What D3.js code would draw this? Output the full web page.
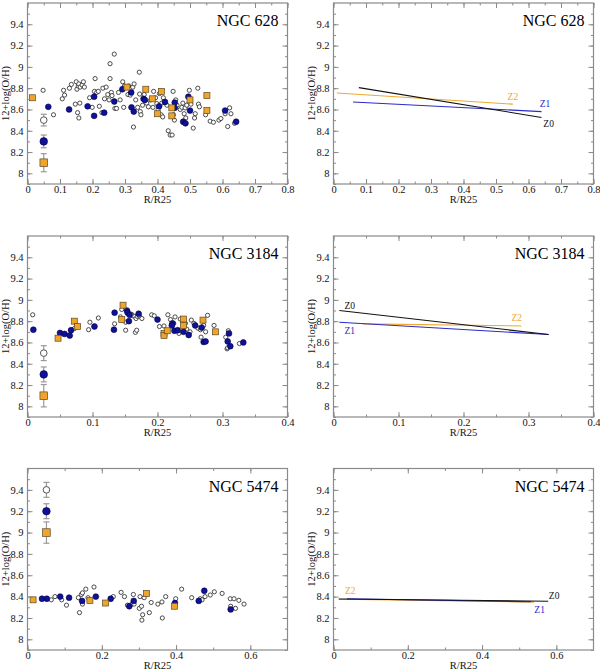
<!DOCTYPE html>
<html lang="en">
<head>
  <meta charset="UTF-8">
  <title>Radial O/H gradients</title>
  <script src="https://d3js.org/d3.v7.min.js"></script>
  <style>
    body { margin: 0; background: #fff; }
    svg { display: block; font-family: "Liberation Serif", "DejaVu Serif", serif; }
    .tick line { stroke: #8a8a8a; }
  </style>
</head>
<body>
  <svg id="chart" width="600" height="669"></svg>

  <script>
    // ---- NGC 628 ----
    const n628Z0 = [
      [0.048,8.78],[0.08,8.55],[0.107,8.70],[0.111,8.78],[0.114,8.735],[0.129,8.80],[0.135,8.835],
      [0.147,8.65],[0.150,8.86],[0.152,8.79],[0.156,8.82],[0.158,8.84],[0.162,8.81],[0.154,8.57],
      [0.158,8.52],[0.161,8.66],[0.168,8.83],[0.172,8.86],[0.175,8.81],[0.191,8.71],[0.199,8.62],
      [0.208,8.89],[0.206,8.77],[0.213,8.76],[0.218,8.77],[0.221,8.63],[0.229,8.57],[0.232,8.80],
      [0.237,8.70],[0.242,8.81],[0.247,8.74],[0.254,9.03],[0.254,8.89],[0.251,8.69],[0.258,8.76],
      [0.260,8.73],[0.267,9.12],[0.269,8.61],[0.274,8.61],[0.28,8.76],[0.285,8.69],[0.293,8.86],
      [0.296,8.62],[0.298,8.82],[0.309,8.74],[0.311,8.82],[0.316,8.735],[0.324,8.81],[0.326,8.435],
      [0.328,8.84],[0.333,8.69],[0.339,8.62],[0.344,8.95],[0.345,8.745],[0.347,8.58],[0.349,8.55],
      [0.354,8.64],[0.359,8.74],[0.367,8.66],[0.372,8.625],[0.379,8.69],[0.386,8.62],[0.388,8.77],
      [0.394,8.71],[0.398,8.655],[0.402,8.60],[0.406,8.75],[0.411,8.55],[0.413,8.66],[0.416,8.53],
      [0.418,8.71],[0.429,8.64],[0.433,8.40],[0.439,8.36],[0.445,8.36],[0.448,8.77],[0.449,8.55],
      [0.452,8.50],[0.456,8.69],[0.46,8.64],[0.47,8.60],[0.475,8.62],[0.478,8.66],[0.482,8.56],
      [0.485,8.615],[0.487,8.52],[0.49,8.64],[0.498,8.78],[0.503,8.65],[0.51,8.425],[0.514,8.52],
      [0.516,8.56],[0.524,8.80],[0.526,8.65],[0.529,8.625],[0.548,8.55],[0.562,8.49],[0.572,8.48],
      [0.589,8.50],[0.595,8.515],[0.608,8.56],[0.616,8.44],[0.622,8.615],[0.626,8.56],[0.637,8.47]
    ];
    const n628Z1 = [
      [0.064,8.625],[0.128,8.60],[0.185,8.63],[0.205,8.54],[0.205,8.72],[0.236,8.57],[0.267,8.675],
      [0.292,8.79],[0.319,8.76],[0.32,8.62],[0.327,8.58],[0.357,8.70],[0.361,8.69],[0.405,8.63],
      [0.423,8.67],[0.453,8.665],[0.453,8.615],[0.479,8.485],[0.486,8.47],[0.495,8.72],[0.50,8.59],
      [0.608,8.59],[0.642,8.485]
    ];
    const n628Z2 = [
      [0.015,8.71],[0.306,8.81],[0.364,8.79],[0.412,8.77],[0.384,8.70],[0.40,8.56],[0.444,8.615],
      [0.444,8.54],[0.50,8.69],[0.552,8.73],[0.552,8.59]
    ];
    // typical errors: [x, y, err] for Z0, Z1, Z2
    const n628Err = [[0.05,8.50,0.055],[0.05,8.30,0.06],[0.05,8.10,0.085]];
    // fitted gradients: [x0, y0, x1, y1] for Z0, Z1, Z2
    const n628Fit = [[0.078,8.805,0.64,8.525],[0.06,8.67,0.64,8.58],[0.01,8.755,0.552,8.65]];
    const n628Tag = [[0.662,8.467],[0.651,8.653],[0.552,8.72]];

    // ---- NGC 3184 ----
    const n3184Z0 = [
      [0.008,8.86],[0.072,8.73],[0.094,8.72],[0.096,8.79],[0.109,8.83],[0.134,8.775],[0.143,8.84],
      [0.145,8.91],[0.151,8.715],[0.151,8.79],[0.16,8.865],[0.162,8.85],[0.165,8.845],[0.166,8.695],
      [0.168,8.715],[0.167,8.825],[0.169,8.845],[0.172,8.85],[0.176,8.825],[0.191,8.86],[0.195,8.85],
      [0.203,8.75],[0.21,8.755],[0.216,8.86],[0.22,8.815],[0.225,8.78],[0.227,8.84],[0.233,8.685],
      [0.235,8.82],[0.243,8.78],[0.245,8.725],[0.25,8.70],[0.252,8.81],[0.256,8.78],[0.262,8.735],
      [0.266,8.72],[0.267,8.65],[0.271,8.76],[0.274,8.70],[0.277,8.855],[0.287,8.76],[0.305,8.65],
      [0.307,8.54],[0.308,8.55],[0.309,8.71],[0.326,8.59]
    ];
    const n3184Z1 = [
      [0.009,8.72],[0.05,8.69],[0.057,8.68],[0.065,8.665],[0.067,8.715],[0.103,8.75],[0.134,8.88],
      [0.133,8.72],[0.153,8.90],[0.154,8.88],[0.157,8.86],[0.156,8.80],[0.171,8.87],[0.20,8.815],
      [0.223,8.78],[0.222,8.76],[0.226,8.71],[0.231,8.715],[0.24,8.70],[0.248,8.67],[0.258,8.76],
      [0.268,8.74],[0.271,8.605],[0.274,8.61],[0.308,8.61],[0.31,8.685],[0.312,8.565],[0.332,8.60]
    ];
    const n3184Z2 = [
      [0.047,8.64],[0.072,8.80],[0.077,8.75],[0.147,8.95],[0.145,8.815],[0.21,8.685],[0.21,8.665],
      [0.215,8.71],[0.24,8.82],[0.24,8.76],[0.27,8.81],[0.289,8.70]
    ];
    const n3184Err = [[0.025,8.50,0.07],[0.025,8.30,0.07],[0.025,8.10,0.105]];
    const n3184Fit = [[0.009,8.90,0.331,8.675],[0.009,8.79,0.331,8.675],[0.045,8.775,0.289,8.755]];
    const n3184Tag = [[0.025,8.95],[0.025,8.71],[0.282,8.83]];

    // ---- NGC 5474 ----
    const n5474Z0 = [
      [0.064,8.37],[0.074,8.40],[0.092,8.37],[0.105,8.32],[0.137,8.39],[0.14,8.25],[0.145,8.42],
      [0.148,8.435],[0.148,8.33],[0.157,8.47],[0.163,8.39],[0.179,8.49],[0.231,8.40],[0.252,8.44],
      [0.261,8.40],[0.269,8.32],[0.281,8.33],[0.285,8.42],[0.287,8.33],[0.301,8.29],[0.303,8.40],
      [0.307,8.31],[0.308,8.18],[0.31,8.23],[0.314,8.39],[0.328,8.25],[0.333,8.345],[0.351,8.33],
      [0.362,8.35],[0.363,8.20],[0.372,8.40],[0.399,8.38],[0.415,8.47],[0.442,8.39],[0.465,8.38],
      [0.47,8.37],[0.478,8.40],[0.492,8.415],[0.503,8.445],[0.524,8.43],[0.546,8.38],[0.547,8.31],
      [0.556,8.38],[0.56,8.29],[0.569,8.365],[0.583,8.33]
    ];
    const n5474Z1 = [
      [0.039,8.38],[0.052,8.38],[0.088,8.40],[0.112,8.39],[0.147,8.36],[0.184,8.40],[0.224,8.38],
      [0.274,8.31],[0.286,8.36],[0.397,8.34],[0.461,8.36],[0.476,8.455],[0.547,8.28]
    ];
    const n5474Z2 = [[0.015,8.37],[0.168,8.365],[0.21,8.34],[0.32,8.43],[0.396,8.31]];
    const n5474Err = [[0.051,9.40,0.07],[0.051,9.20,0.07],[0.051,9.00,0.1]];
    const n5474Fit = [[0.014,8.378,0.578,8.357],[0.036,8.38,0.532,8.352],[0.015,8.376,0.54,8.348]];
    const n5474Tag = [[0.594,8.41],[0.555,8.28],[0.045,8.455]];

    const galaxies = ["NGC 628", "NGC 3184", "NGC 5474"];
    const xMax = [0.8, 0.4, 0.7];
    const xStep = [0.1, 0.1, 0.2];
    const zNames = ["Z0", "Z1", "Z2"];
    const yTicks = [8, 8.2, 8.4, 8.6, 8.8, 9, 9.2, 9.4];

    const pointSets = [[n628Z0, n628Z1, n628Z2], [n3184Z0, n3184Z1, n3184Z2], [n5474Z0, n5474Z1, n5474Z2]];
    const errSets = [n628Err, n3184Err, n5474Err];
    const fitSets = [n628Fit, n3184Fit, n5474Fit];
    const tagSets = [n628Tag, n3184Tag, n5474Tag];

    const serif = "'Liberation Serif', 'DejaVu Serif', serif";
    const lineColor = ["#111", "#2a2ac8", "#f0a830"];
    const frameColor = "#8a8a8a";
    const fmt = d3.format("~g");

    const svg = d3.select("#chart");
    const rows = [[3, 184], [236, 417], [468.5, 650]];
    const cols = [[27.5, 287.5], [333.5, 593.5]];

    function frame(g, x, y, k) {
      const [x0, x1] = x.range();
      const [y1, y0] = y.range();
      const step = xStep[k];
      const nMaj = Math.round(xMax[k] / step);
      const xMaj = d3.range(0, nMaj + 1).map(i => +(i * step).toFixed(3));
      const xMin = d3.range(0, 2 * nMaj + 1).map(i => +(i * step / 2).toFixed(3));
      const yMin = d3.range(0, 17).map(i => +(7.9 + i * 0.1).toFixed(2));

      const axes = [
        [d3.axisBottom(x).tickValues(xMaj).tickSize(-5).tickPadding(2).tickFormat(fmt), `translate(0,${y1})`],
        [d3.axisBottom(x).tickValues(xMin).tickSize(-2.5).tickFormat(""), `translate(0,${y1})`],
        [d3.axisTop(x).tickValues(xMaj).tickSize(-5).tickFormat(""), `translate(0,${y0})`],
        [d3.axisTop(x).tickValues(xMin).tickSize(-2.5).tickFormat(""), `translate(0,${y0})`],
        [d3.axisLeft(y).tickValues(yTicks).tickSize(-5).tickPadding(4).tickFormat(fmt), `translate(${x0},0)`],
        [d3.axisLeft(y).tickValues(yMin).tickSize(-2.5).tickFormat(""), `translate(${x0},0)`],
        [d3.axisRight(y).tickValues(yTicks).tickSize(-5).tickFormat(""), `translate(${x1},0)`],
        [d3.axisRight(y).tickValues(yMin).tickSize(-2.5).tickFormat(""), `translate(${x1},0)`]
      ];
      axes.forEach(([ax, tr]) => {
        const a = g.append("g").attr("transform", tr).call(ax.tickSizeOuter(0))
          .attr("font-family", serif).attr("font-size", 10.5);
        a.select(".domain").remove();
        a.selectAll("text").attr("fill", "#111");
      });

      g.append("rect")
        .attr("x", x0).attr("y", y0)
        .attr("width", x1 - x0).attr("height", y1 - y0)
        .attr("fill", "none").attr("stroke", frameColor).attr("stroke-width", 1.2);

      g.append("text")
        .attr("x", (x0 + x1) / 2).attr("y", y1 + 18.5)
        .attr("text-anchor", "middle").attr("font-size", 10.5).attr("fill", "#111")
        .text("R/R25");

      g.append("text")
        .attr("transform", `translate(${x0 - 19},${(y0 + y1) / 2}) rotate(-90)`)
        .attr("text-anchor", "middle").attr("font-size", 10.5).attr("fill", "#111")
        .text("12+log(O/H)");

      g.append("text")
        .attr("x", x1 - 9).attr("y", y0 + 23)
        .attr("text-anchor", "end").attr("font-size", 16).attr("fill", "#000")
        .text(galaxies[k]);
    }

    galaxies.forEach((name, k) => {
      const [top, bottom] = rows[k];
      const y = d3.scaleLinear().domain([7.9, 9.6]).range([bottom, top]);

      // left panel: abundances
      const xl = d3.scaleLinear().domain([0, xMax[k]]).range(cols[0]);
      const gl = svg.append("g");
      const [z0, z1, z2] = pointSets[k];

      gl.append("g").selectAll("circle").data(z0).join("circle")
        .attr("cx", d => xl(d[0])).attr("cy", d => y(d[1])).attr("r", 2.1)
        .attr("fill", "#fff").attr("stroke", "#222").attr("stroke-width", 0.8);

      gl.append("g").selectAll("circle").data(z1).join("circle")
        .attr("cx", d => xl(d[0])).attr("cy", d => y(d[1])).attr("r", 2.9)
        .attr("fill", "#10109a").attr("stroke", "#000040").attr("stroke-width", 0.6);

      gl.append("g").selectAll("rect").data(z2).join("rect")
        .attr("x", d => xl(d[0]) - 3).attr("y", d => y(d[1]) - 3)
        .attr("width", 6).attr("height", 6)
        .attr("fill", "#f2a42a").attr("stroke", "#5a4a22").attr("stroke-width", 0.7);

      // typical error bars
      const eg = gl.append("g");
      errSets[k].forEach((e, i) => {
        const cx = xl(e[0]);
        eg.append("line")
          .attr("x1", cx).attr("x2", cx).attr("y1", y(e[1] - e[2])).attr("y2", y(e[1] + e[2]))
          .attr("stroke", "#999").attr("stroke-width", 1.2);
        [e[1] - e[2], e[1] + e[2]].forEach(v => {
          eg.append("line")
            .attr("x1", cx - 3).attr("x2", cx + 3).attr("y1", y(v)).attr("y2", y(v))
            .attr("stroke", "#999").attr("stroke-width", 1.2);
        });
        if (i === 0) {
          eg.append("circle").attr("cx", cx).attr("cy", y(e[1])).attr("r", 3.3)
            .attr("fill", "#fff").attr("stroke", "#444").attr("stroke-width", 0.9);
        } else if (i === 1) {
          eg.append("circle").attr("cx", cx).attr("cy", y(e[1])).attr("r", 3.8)
            .attr("fill", "#10109a").attr("stroke", "#000040").attr("stroke-width", 0.6);
        } else {
          eg.append("rect").attr("x", cx - 3.8).attr("y", y(e[1]) - 3.8)
            .attr("width", 7.6).attr("height", 7.6)
            .attr("fill", "#f2a42a").attr("stroke", "#5a4a22").attr("stroke-width", 0.7);
        }
      });

      frame(gl, xl, y, k);

      // right panel: fitted gradients
      const xr = d3.scaleLinear().domain([0, xMax[k]]).range(cols[1]);
      const gr = svg.append("g");
      [2, 1, 0].forEach(i => {
        const f = fitSets[k][i];
        gr.append("line")
          .attr("x1", xr(f[0])).attr("y1", y(f[1]))
          .attr("x2", xr(f[2])).attr("y2", y(f[3]))
          .attr("stroke", lineColor[i]).attr("stroke-width", 1.1);
        const t = tagSets[k][i];
        gr.append("text")
          .attr("x", xr(t[0])).attr("y", y(t[1]))
          .attr("dy", "0.35em").attr("text-anchor", "middle")
          .attr("font-size", 9.5).attr("fill", lineColor[i])
          .text(zNames[i]);
      });

      frame(gr, xr, y, k);
    });
  </script>
</body>
</html>
